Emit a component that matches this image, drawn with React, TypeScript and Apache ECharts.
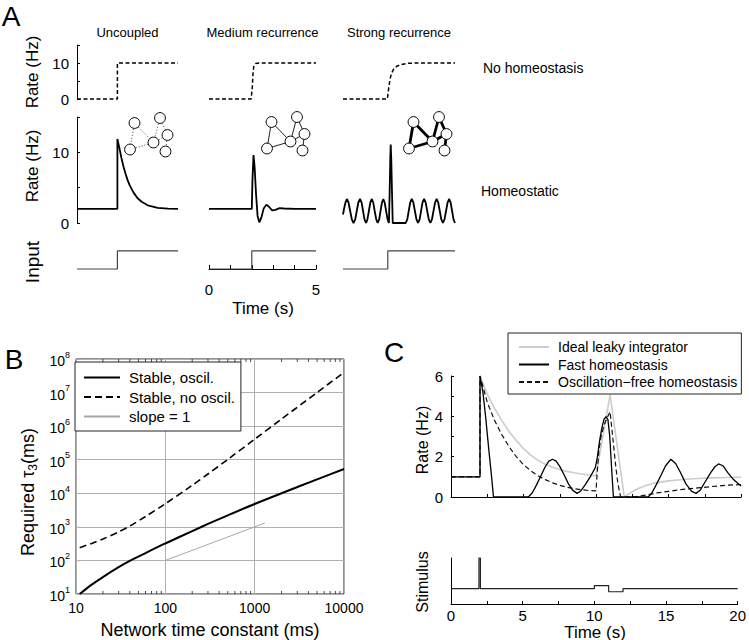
import React, { useEffect, useRef } from 'react';
import * as echarts from 'echarts';

const FONT = "'Liberation Sans', Arial, Helvetica, sans-serif";

// ---------- Panel A data ----------
const A_COLUMNS = ['Uncoupled', 'Medium recurrence', 'Strong recurrence'];
const A_RATE_LABELS = [0, 10];
const A_TIME_LABELS = [0, 5];

const NOHOMEO_UNCOUPLED = [[0, 0], [2, 0], [2, 10], [5, 10]];
const NOHOMEO_MEDIUM = [[0, 0], [1.97, 0], [2.02, 3], [2.06, 7.5], [2.1, 9.3], [2.18, 9.85], [2.35, 10], [5, 10]];
const NOHOMEO_STRONG = [[0, 0], [1.98, 0], [2.04, 3], [2.1, 5.5], [2.16, 7], [2.25, 8.2], [2.4, 9.1], [2.6, 9.6], [2.9, 9.9], [3.3, 10], [5, 10]];

const HOMEO_UNCOUPLED = [[0, 2], [2, 2], [2, 11.9], [2.1, 10.6], [2.2, 9.2], [2.3, 8.0], [2.4, 7.0], [2.5, 6.1], [2.6, 5.4], [2.8, 4.3], [3.0, 3.5], [3.2, 3.0], [3.5, 2.5], [4.0, 2.15], [4.5, 2.03], [5, 2]];
const HOMEO_MEDIUM = [[0, 2], [2, 2], [2.03, 6], [2.08, 9.6], [2.13, 8], [2.2, 4], [2.27, 1], [2.35, 0.1], [2.45, 0.8], [2.55, 2.0], [2.68, 2.6], [2.8, 2.3], [2.95, 1.8], [3.1, 1.85], [3.3, 2.1], [3.5, 2.05], [4, 2], [5, 2]];
const HOMEO_STRONG = [
  [0, 1.2], [0.06, 2.2], [0.11, 2.9], [0.17, 3.4], [0.245, 2.9], [0.32, 1.7], [0.395, 0.5], [0.47, 0],
  [0.545, 0.5], [0.615, 1.7], [0.685, 2.9], [0.76, 3.4], [0.83, 2.9], [0.895, 1.7], [0.96, 0.5], [1.03, 0],
  [1.09, 0.5], [1.155, 1.7], [1.22, 2.9], [1.28, 3.4], [1.35, 2.9], [1.415, 1.7], [1.485, 0.5], [1.55, 0],
  [1.615, 0.5], [1.675, 1.7], [1.74, 2.9], [1.8, 3.4], [1.86, 2.9], [1.925, 1.7], [1.99, 0.5], [2.05, 0],
  [2.08, 4], [2.11, 9], [2.13, 11.1], [2.155, 9], [2.19, 4], [2.22, 0], [2.8, 0],
  [2.87, 0.5], [2.935, 1.7], [3.0, 2.9], [3.07, 3.4], [3.14, 2.9], [3.21, 1.7], [3.28, 0.5], [3.35, 0],
  [3.42, 0.5], [3.485, 1.7], [3.55, 2.9], [3.62, 3.4], [3.69, 2.9], [3.76, 1.7], [3.83, 0.5], [3.9, 0],
  [3.97, 0.5], [4.04, 1.7], [4.11, 2.9], [4.18, 3.4], [4.25, 2.9], [4.32, 1.7], [4.39, 0.5], [4.46, 0],
  [4.53, 0.5], [4.6, 1.7], [4.67, 2.9], [4.74, 3.4], [4.805, 2.9], [4.87, 1.7], [4.935, 0.5], [5.0, 0],
];
const INPUT_STEP = [[0, 0], [2, 0], [2, 1], [5, 1]];

// network sketch (illustration): node offsets and edges
const NET_NODES = [[4.5, 5], [30, 0], [37.5, 17], [23.5, 24.5], [0, 31.5], [35.5, 33.5]];
const NET_EDGES = [[0, 4], [0, 3], [4, 3], [1, 3], [1, 2], [2, 5], [3, 2]];

// ---------- Panel B data ----------
const B_OSC = [[11, 10], [15, 19], [20, 32], [30, 63], [40, 97], [60, 166], [100, 320], [200, 750], [300, 1220], [500, 2200], [1000, 4800], [2000, 10000], [5000, 26000], [10000, 53000]];
const B_NO_OSC = [[11, 240], [15, 322], [20, 435], [30, 708], [40, 1060], [60, 2030], [100, 4880], [200, 17300], [300, 37500], [500, 102000], [1000, 408000], [2000, 1630000], [5000, 10100000], [10000, 40000000]];
const B_SLOPE = [[100, 100], [1300, 1300]];
const B_MINOR_X = [20, 30, 40, 50, 60, 70, 80, 90, 200, 300, 400, 500, 600, 700, 800, 900, 2000, 3000, 4000, 5000, 6000, 7000, 8000, 9000];
const B_NAMES = ['Stable, oscil.', 'Stable, no oscil.', 'slope = 1'];

// ---------- Panel C data ----------
const C_LEAKY = [[0, 1], [2, 1], [2, 6], [2.5, 5.1], [3, 4.4], [3.5, 3.8], [4, 3.25], [4.5, 2.8], [5, 2.4], [5.5, 2.08], [6, 1.82], [6.5, 1.62], [7, 1.47], [7.5, 1.36], [8, 1.27], [8.5, 1.2], [9, 1.14], [9.5, 1.09], [10, 1.05], [10.97, 5.06], [11.95, 0], [12.3, 0.18], [12.7, 0.35], [13, 0.45], [13.5, 0.58], [14, 0.68], [15, 0.8], [16, 0.87], [17, 0.92], [18, 0.95], [19, 0.97], [20, 0.98]];
const C_FAST = [[0, 1], [2, 1], [2, 6], [2.2, 5.2], [2.4, 3.9], [2.6, 2.4], [2.8, 1.0], [2.93, 0], [5.33, 0], [5.6, 0.2], [5.9, 0.6], [6.2, 1.05], [6.5, 1.5], [6.75, 1.78], [7.0, 1.87], [7.25, 1.78], [7.5, 1.52], [7.8, 1.1], [8.1, 0.65], [8.4, 0.33], [8.7, 0.18], [8.95, 0.3], [9.25, 0.6], [9.6, 1.0], [9.95, 1.45], [10.1, 2.0], [10.25, 2.8], [10.4, 3.4], [10.55, 3.85], [10.69, 3.98], [10.82, 3.85], [10.95, 3.0], [11.07, 1.5], [11.2, 0], [13.6, 0], [13.85, 0.2], [14.15, 0.6], [14.5, 1.1], [14.8, 1.55], [15.17, 1.87], [15.5, 1.65], [15.8, 1.25], [16.2, 0.65], [16.6, 0.28], [16.9, 0.18], [17.2, 0.35], [17.5, 0.72], [17.9, 1.2], [18.2, 1.5], [18.45, 1.64], [18.75, 1.55], [19.1, 1.2], [19.5, 0.85], [20, 0.55]];
const C_OSCFREE = [[0, 1], [2, 1], [2, 6], [2.5, 4.7], [3, 3.8], [3.5, 3.1], [4, 2.5], [4.5, 2.0], [5, 1.6], [5.5, 1.3], [6, 1.05], [6.5, 0.86], [7, 0.7], [7.5, 0.58], [8, 0.48], [8.5, 0.41], [9, 0.36], [9.5, 0.32], [10, 0.3], [10.08, 1.2], [10.2, 2.3], [10.35, 3.0], [10.55, 3.55], [10.75, 3.9], [10.97, 4.23], [11.15, 3.0], [11.35, 1.6], [11.5, 0.7], [11.7, 0], [12.6, 0], [13.5, 0.1], [14.2, 0.2], [15, 0.28], [16, 0.38], [17, 0.45], [18, 0.52], [19, 0.58], [20, 0.62]];
const C_STIM = [[0, 0], [1.95, 0], [1.95, 10], [2.05, 10], [2.05, 0], [10, 0], [10, 1], [11, 1], [11, -1], [12, -1], [12, 0], [20, 0]];
const C_NAMES = ['Ideal leaky integrator', 'Fast homeostasis', 'Oscillation\u2212free homeostasis'];

function txt(text: string, x: number, y: number, size: number, opts: any = {}) {
  return {
    type: 'text',
    x, y,
    rotation: opts.rotation || 0,
    silent: true,
    style: {
      text,
      fontSize: size,
      fontFamily: FONT,
      fill: opts.fill || '#000',
      align: opts.align || 'center',
      verticalAlign: 'middle',
      textAlign: opts.align || 'center',
      textVerticalAlign: 'middle',
      rich: opts.rich,
    },
  };
}

export default function App() {
  const ref = useRef<HTMLDivElement>(null);
  useEffect(() => {
    document.body.style.margin = '0';
    const chart = echarts.init(ref.current!, null, { renderer: 'svg' });

    const colLeft = [77, 209, 343];
    const colWidth = [101, 107, 112];
    const grids: any[] = [];
    const xAxes: any[] = [];
    const yAxes: any[] = [];
    const series: any[] = [];

    const hiddenX = (g: number, max: number) => ({ gridIndex: g, type: 'value', min: 0, max, show: false });
    const rateY = (g: number, show: boolean) => ({
      gridIndex: g, type: 'value', min: 0, max: 15, interval: 5, show,
      axisLine: { show: true, lineStyle: { color: '#000', width: 1 } },
      axisTick: { show: true, inside: true, length: 3, lineStyle: { color: '#000' } },
      splitLine: { show: false },
      axisLabel: {
        fontSize: 15, color: '#000', fontFamily: FONT, margin: 8,
        formatter: (v: number) => (A_RATE_LABELS.includes(v) ? String(v) : ''),
      },
    });
    const line = (g: number, data: any, style: any, name?: string, smooth: any = false) => ({
      type: 'line', name, xAxisIndex: g, yAxisIndex: g, data, symbol: 'none', showSymbol: false,
      clip: false, silent: true, lineStyle: style, smooth,
      itemStyle: { color: style.color, opacity: 0 },
    });

    const noHomeo = [NOHOMEO_UNCOUPLED, NOHOMEO_MEDIUM, NOHOMEO_STRONG];
    const homeo = [HOMEO_UNCOUPLED, HOMEO_MEDIUM, HOMEO_STRONG];
    for (let c = 0; c < 3; c++) {
      const g = grids.length;
      grids.push({ left: colLeft[c], top: 45, width: colWidth[c], height: 54 });
      xAxes.push(hiddenX(g, 5));
      yAxes.push(rateY(g, c === 0));
      series.push(line(g, noHomeo[c], { color: '#000', width: 1.5, type: [4, 2.5] }));
    }
    for (let c = 0; c < 3; c++) {
      const g = grids.length;
      grids.push({ left: colLeft[c], top: 117, width: colWidth[c], height: 106 });
      xAxes.push(hiddenX(g, 5));
      yAxes.push(rateY(g, c === 0));
      series.push(line(g, homeo[c], { color: '#000', width: 1.8 }));
    }
    for (let c = 0; c < 3; c++) {
      const g = grids.length;
      grids.push({ left: colLeft[c], top: 247, width: colWidth[c], height: 29 });
      if (c === 1) {
        xAxes.push({
          gridIndex: g, type: 'value', min: 0, max: 5, interval: 1, position: 'bottom',
          axisLine: { show: true, lineStyle: { color: '#000', width: 1 } },
          axisTick: { show: true, inside: true, length: 4, lineStyle: { color: '#000' } },
          splitLine: { show: false },
          axisLabel: {
            fontSize: 15, color: '#000', fontFamily: FONT, margin: 6,
            formatter: (v: number) => (A_TIME_LABELS.includes(v) ? String(v) : ''),
          },
        });
      } else {
        xAxes.push(hiddenX(g, 5));
      }
      yAxes.push({ gridIndex: g, type: 'value', min: -0.39, max: 1.22, show: false });
      series.push(line(g, INPUT_STEP, { color: '#444', width: 1.2 }));
    }

    // Panel B
    const gB = grids.length;
    grids.push({ left: 76, top: 359, width: 268, height: 235, show: true, borderColor: '#222', borderWidth: 1, backgroundColor: 'transparent' });
    xAxes.push({
      gridIndex: gB, type: 'log', logBase: 10, min: 10, max: 10000, splitNumber: 3,
      axisLine: { show: false }, axisTick: { show: false },
      splitLine: { show: true, lineStyle: { color: '#b0b0b0', width: 1 } },
      axisLabel: { fontSize: 14, color: '#000', fontFamily: FONT, margin: 7, formatter: (v: number) => String(Math.round(v)) },
    });
    yAxes.push({
      gridIndex: gB, type: 'log', logBase: 10, min: 10, max: 1e8, splitNumber: 7,
      axisLine: { show: false }, axisTick: { show: false },
      splitLine: { show: true, lineStyle: { color: '#b0b0b0', width: 1 } },
      axisLabel: {
        color: '#000', fontFamily: FONT, margin: 6,
        formatter: (v: number) => '{b|10}{s|' + Math.round(Math.log10(v)) + '}',
        rich: {
          b: { fontSize: 14, fontFamily: FONT, color: '#000', lineHeight: 18, verticalAlign: 'bottom' },
          s: { fontSize: 9, fontFamily: FONT, color: '#000', lineHeight: 18, verticalAlign: 'top' },
        },
      },
    });
    series.push(line(gB, B_SLOPE, { color: '#a8a8a8', width: 1 }, B_NAMES[2]));
    series.push(line(gB, B_NO_OSC, { color: '#000', width: 1.6, type: [7, 4] }, B_NAMES[1], 0.3));
    series.push(line(gB, B_OSC, { color: '#000', width: 2 }, B_NAMES[0], 0.3));
    series.push({
      type: 'custom', xAxisIndex: gB, yAxisIndex: gB, silent: true, clip: false,
      data: B_MINOR_X.map((v) => [v, 10]),
      renderItem: (params: any, api: any) => {
        const x = api.value(0);
        const top = api.coord([x, 1e8]);
        const bot = api.coord([x, 10]);
        return {
          type: 'group',
          children: [
            { type: 'line', shape: { x1: top[0], y1: top[1], x2: top[0], y2: top[1] + 3 }, style: { stroke: '#222', lineWidth: 0.8 } },
            { type: 'line', shape: { x1: bot[0], y1: bot[1], x2: bot[0], y2: bot[1] - 3 }, style: { stroke: '#222', lineWidth: 0.8 } },
          ],
        };
      },
    });

    // Panel C
    const gC = grids.length;
    grids.push({ left: 451, top: 376, width: 290, height: 121 });
    xAxes.push({
      gridIndex: gC, type: 'value', min: 0, max: 20, interval: 2.5,
      axisLine: { show: true, onZero: false, lineStyle: { color: '#000', width: 1 } },
      axisTick: { show: true, inside: true, length: 3, lineStyle: { color: '#000' } },
      splitLine: { show: false }, axisLabel: { show: false },
    });
    yAxes.push({
      gridIndex: gC, type: 'value', min: 0, max: 6, interval: 1,
      axisLine: { show: true, lineStyle: { color: '#000', width: 1 } },
      axisTick: { show: true, inside: true, length: 3, lineStyle: { color: '#000' } },
      splitLine: { show: false },
      axisLabel: { fontSize: 15, color: '#000', fontFamily: FONT, margin: 8, formatter: (v: number) => (v % 2 === 0 ? String(v) : '') },
    });
    series.push(line(gC, C_LEAKY, { color: '#cccccc', width: 1.6 }, C_NAMES[0]));
    series.push(line(gC, C_OSCFREE, { color: '#111', width: 1.2, type: [5, 3] }, C_NAMES[2]));
    series.push(line(gC, C_FAST, { color: '#000', width: 1.3 }, C_NAMES[1]));

    const gS = grids.length;
    grids.push({ left: 451, top: 558, width: 290, height: 46 });
    xAxes.push({
      gridIndex: gS, type: 'value', min: 0, max: 20, interval: 2.5,
      axisLine: { show: true, onZero: false, lineStyle: { color: '#000', width: 1 } },
      axisTick: { show: true, inside: true, length: 3, lineStyle: { color: '#000' } },
      splitLine: { show: false },
      axisLabel: { fontSize: 15, color: '#000', fontFamily: FONT, margin: 4, formatter: (v: number) => (v % 5 === 0 ? String(v) : '') },
    });
    yAxes.push({
      gridIndex: gS, type: 'value', min: -5, max: 10,
      axisLine: { show: true, lineStyle: { color: '#000', width: 1 } },
      axisTick: { show: false }, axisLabel: { show: false }, splitLine: { show: false },
    });
    series.push(line(gS, C_STIM, { color: '#222', width: 1.2 }));

    // network sketches
    const netOrigins = [[130, 118], [267, 117], [409, 117]];
    const edgeStyles = [
      { stroke: '#444', lineWidth: 1, lineDash: [1, 2] },
      { stroke: '#222', lineWidth: 1 },
      { stroke: '#000', lineWidth: 2.8 },
    ];
    const nets: any[] = netOrigins.map((o, k) => ({
      type: 'group', x: o[0], y: o[1], silent: true, z: 10,
      children: [
        ...NET_EDGES.map(([a, b]) => ({
          type: 'line',
          shape: { x1: NET_NODES[a][0], y1: NET_NODES[a][1], x2: NET_NODES[b][0], y2: NET_NODES[b][1] },
          style: edgeStyles[k],
        })),
        ...NET_NODES.map(([x, y]) => ({
          type: 'circle', shape: { cx: x, cy: y, r: 5.4 }, style: { fill: '#fff', stroke: '#000', lineWidth: 1 },
        })),
      ],
    }));

    const graphic: any[] = [
      txt('A', 11, 16, 28),
      txt('B', 14, 359, 28),
      txt('C', 394, 352, 28),
      ...A_COLUMNS.map((t, i) => txt(t, colLeft[i] + colWidth[i] / 2, 32, 13)),
      txt('Rate (Hz)', 32, 72, 17, { rotation: Math.PI / 2 }),
      txt('Rate (Hz)', 32, 166, 17, { rotation: Math.PI / 2 }),
      txt('Input', 32, 262, 19, { rotation: Math.PI / 2 }),
      txt('No homeostasis', 483, 68, 14, { align: 'left' }),
      txt('Homeostatic', 481, 191, 14, { align: 'left' }),
      txt('Time (s)', 263, 308, 17),
      txt('Network time constant (ms)', 210, 630, 18),
      txt('{n|Required τ}{s|3}{n|(ms)}', 28, 492, 18, {
        rotation: Math.PI / 2,
        rich: {
          n: { fontSize: 18, fontFamily: FONT, fill: '#000', lineHeight: 22 },
          s: { fontSize: 12, fontFamily: FONT, fill: '#000', lineHeight: 12, verticalAlign: 'bottom' },
        },
      }),
      txt('Rate (Hz)', 422, 440, 16, { rotation: Math.PI / 2 }),
      txt('Stimulus', 422, 582, 16, { rotation: Math.PI / 2 }),
      txt('Time (s)', 595, 632, 17),
      ...nets,
    ];

    const legendCommon = {
      orient: 'vertical', borderColor: '#222', borderWidth: 1, backgroundColor: '#fff', selectedMode: false,
      itemStyle: { opacity: 0, borderWidth: 0 },
    };
    chart.setOption({
      animation: false,
      backgroundColor: '#fff',
      textStyle: { fontFamily: FONT },
      grid: grids,
      xAxis: xAxes,
      yAxis: yAxes,
      legend: [
        {
          ...legendCommon,
          data: B_NAMES, left: 75, top: 362,
          itemWidth: 36, itemHeight: 14, itemGap: 4.5, padding: [8, 6, 7, 8],
          textStyle: { fontSize: 15, color: '#000', fontFamily: FONT, padding: [0, 0, 0, 4] },
        },
        {
          ...legendCommon,
          data: C_NAMES, left: 508, top: 333,
          itemWidth: 30, itemHeight: 12, itemGap: 3.5, padding: [7, 4, 5, 10],
          textStyle: { fontSize: 14, color: '#000', fontFamily: FONT, padding: [0, 0, 0, 4] },
        },
      ],
      series,
      graphic,
    });
    return () => chart.dispose();
  }, []);
  return <div ref={ref} style={{ position: 'absolute', left: 0, top: 0, width: 749, height: 640 }} />;
}
